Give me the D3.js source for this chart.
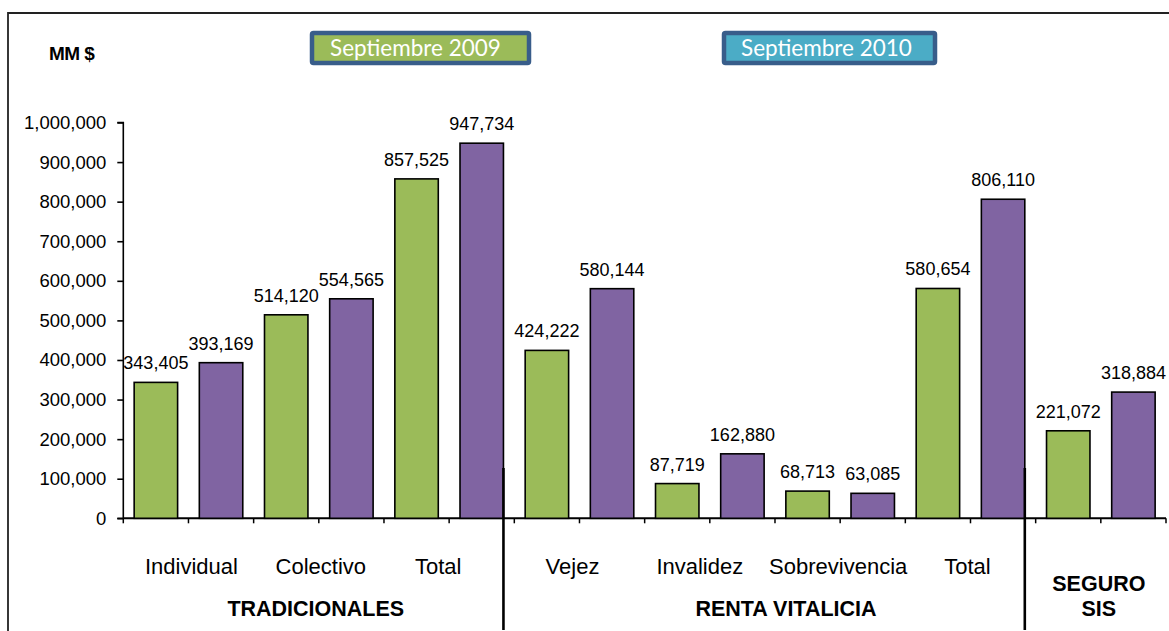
<!DOCTYPE html>
<html>
<head>
<meta charset="utf-8">
<script src="https://cdn.jsdelivr.net/npm/d3@7"></script>
<style>
  html, body { margin: 0; padding: 0; background: #fff; }
  svg { display: block; }
</style>
</head>
<body>
<svg id="chart" width="1169" height="631"></svg>
<script>
// ---- data ----
const categories = ["Individual", "Colectivo", "Total", "Vejez", "Invalidez", "Sobrevivencia", "Total", ""];
const values2009 = [343405, 514120, 857525, 424222, 87719, 68713, 580654, 221072];
const values2010 = [393169, 554565, 947734, 580144, 162880, 63085, 806110, 318884];
const seriesNames = ["Septiembre 2009", "Septiembre 2010"];
const yTicks = [0, 100000, 200000, 300000, 400000, 500000, 600000, 700000, 800000, 900000, 1000000];
const groupNames = [["TRADICIONALES"], ["RENTA VITALICIA"], ["SEGURO", "SIS"]];
const groupFirstCategory = [0, 3, 7];
const groupLastCategory = [2, 6, 7];
const unitLabel = "MM $";

(function () {
// ---- layout ----
const svg = d3.select("#chart");
const W = 1169, H = 631;
const pL = 123.3, pR = 1166, pT = 122.5, pB = 518.3;
const green = "#9BBB59", purple = "#8064A2", teal = "#4BACC6", legendBorder = "#385D8A";
const axisFont = "'Liberation Sans', Arial, sans-serif";
const groupLabelShift = [-3, 11, -2];
const catLabelShift = [3, 2, -11, -7, -10, -2, -3, 0];

// outer frame
svg.append("path")
  .attr("d", `M8,${H + 5} L8,13 L${W + 5},13`)
  .attr("fill", "none").attr("stroke", "#222").attr("stroke-width", 1.8);

// build slots: one per bar
const slots = [];
categories.forEach((c, i) => {
  slots.push({ cat: i, series: 0, value: values2009[i], key: "s" + (2 * i) });
  slots.push({ cat: i, series: 1, value: values2010[i], key: "s" + (2 * i + 1) });
});

const x = d3.scaleBand().domain(slots.map(d => d.key)).range([pL, pR]).paddingInner(0).paddingOuter(0);
const y = d3.scaleLinear().domain([0, 1000000]).range([pB, pT]);
const bw = x.bandwidth();
const barW = bw / 1.5;

// y axis
const yAxis = svg.append("g").attr("transform", `translate(${pL},0)`)
  .call(d3.axisLeft(y).tickValues(yTicks).tickSize(6).tickPadding(11).tickFormat(d3.format(",")));
yAxis.select(".domain").attr("stroke", "#000").attr("stroke-width", 1.6).attr("d", `M-6,${pT}H0V${pB}H-6`);
yAxis.selectAll(".tick line").attr("stroke", "#000").attr("stroke-width", 1.6);
yAxis.selectAll(".tick text").attr("font-family", axisFont).attr("font-size", 18.5).attr("fill", "#000");

// x axis (ticks between each bar)
const xAxis = svg.append("g").attr("transform", `translate(0,${pB})`);
xAxis.append("line").attr("x1", pL).attr("x2", pR).attr("y1", 0).attr("y2", 0)
  .attr("stroke", "#000").attr("stroke-width", 2);
const tickPos = slots.map(d => x(d.key)).concat([pR]);
xAxis.selectAll("line.tk").data(tickPos).join("line").attr("class", "tk")
  .attr("x1", d => d).attr("x2", d => d).attr("y1", 0).attr("y2", 5)
  .attr("stroke", "#000").attr("stroke-width", 1.5);

// bars
svg.append("g").selectAll("rect").data(slots).join("rect")
  .attr("x", d => x(d.key) + (bw - barW) / 2)
  .attr("width", barW)
  .attr("y", d => y(d.value))
  .attr("height", d => y(0) - y(d.value))
  .attr("fill", d => d.series === 0 ? green : purple)
  .attr("stroke", "#000").attr("stroke-width", 1.6);

// data labels
svg.append("g").selectAll("text").data(slots).join("text")
  .attr("x", d => x(d.key) + bw / 2)
  .attr("y", d => y(d.value) - 13)
  .attr("text-anchor", "middle")
  .attr("font-family", axisFont).attr("font-size", 18).attr("fill", "#000")
  .text(d => d3.format(",")(d.value));

// category labels
svg.append("g").selectAll("text").data(categories).join("text")
  .attr("x", (d, i) => x("s" + (2 * i + 1)) + catLabelShift[i])
  .attr("y", 574)
  .attr("text-anchor", "middle")
  .attr("font-family", axisFont).attr("font-size", 22).attr("fill", "#000")
  .text(d => d);

// group labels
const gl = svg.append("g");
groupNames.forEach((lines, gi) => {
  const x0 = x("s" + (2 * groupFirstCategory[gi])), x1 = x("s" + (2 * groupLastCategory[gi] + 1)) + bw;
  const cx = (x0 + x1) / 2 + groupLabelShift[gi];
  const t = gl.append("text").attr("text-anchor", "middle")
    .attr("font-family", axisFont).attr("font-size", 21.5).attr("font-weight", "bold").attr("fill", "#000");
  lines.forEach((ln, k) => {
    t.append("tspan").attr("x", cx).attr("y", 616 - (lines.length - 1 - k) * 25).text(ln);
  });
});

// separators between groups
[1, 2].forEach(gi => {
  const sx = x("s" + (2 * groupFirstCategory[gi])) - (bw - barW) / 2;
  svg.append("line").attr("x1", sx).attr("x2", sx).attr("y1", 468).attr("y2", 630)
    .attr("stroke", "#000").attr("stroke-width", 2.6);
});

// unit label
svg.append("text").attr("x", 49).attr("y", 60)
  .attr("font-family", axisFont).attr("font-size", 19).attr("font-weight", "bold")
  .attr("letter-spacing", -0.6).attr("fill", "#000").text(unitLabel);

// legend boxes
const legend = [
  { name: seriesNames[0], fill: green, x0: 310, x1: 531, tx: 330 },
  { name: seriesNames[1], fill: teal, x0: 722, x1: 937, tx: 741 }
];
legend.forEach(l => {
  const gg = svg.append("g");
  gg.append("rect").attr("x", l.x0 + 2).attr("y", 33).attr("width", l.x1 - l.x0 - 4).attr("height", 30)
    .attr("rx", 1.5).attr("fill", l.fill).attr("stroke", legendBorder).attr("stroke-width", 4.5);
  gg.append("text").attr("x", l.tx).attr("y", 56)
    .attr("font-family", "Lato, 'Open Sans', sans-serif").attr("font-size", 22.5).attr("fill", "#fff")
    .text(l.name);
});
})();
</script>
</body>
</html>
